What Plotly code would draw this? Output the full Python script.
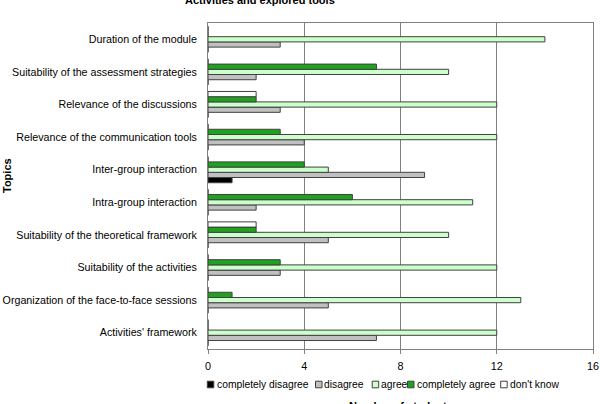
import plotly.graph_objects as go

topics = [
    "Activities' framework",
    "Organization of the face-to-face sessions",
    "Suitability of the activities",
    "Suitability of the theoretical framework",
    "Intra-group interaction",
    "Inter-group interaction",
    "Relevance of the communication tools",
    "Relevance of the discussions",
    "Suitability of the assessment strategies",
    "Duration of the module",
]
completely_disagree = [0, 0, 0, 0, 0, 1, 0, 0, 0, 0]
disagree = [7, 5, 3, 5, 2, 9, 4, 3, 2, 3]
agree = [12, 13, 12, 10, 11, 5, 12, 12, 10, 14]
completely_agree = [0, 1, 3, 2, 6, 4, 3, 2, 7, 0]
dont_know = [0, 0, 0, 2, 0, 0, 0, 2, 0, 0]

series_names = ["completely disagree", "disagree", "agree", "completely agree", "don't know"]
series_values = [completely_disagree, disagree, agree, completely_agree, dont_know]
series_colors = ["#000000", "#C0C0C0", "#CCFFCC", "#1FA31F", "#FFFFFF"]

FONT = "Liberation Sans, Arial, sans-serif"
EDGE = "#404040"

fig = go.Figure()
for name, vals, color in zip(series_names, series_values, series_colors):
    fig.add_trace(go.Bar(
        y=topics, x=vals, name=name, orientation="h", showlegend=False,
        marker=dict(color=color, line=dict(color=EDGE, width=1)),
    ))

W, H = 600, 404
L, R, T, B = 208, 7, 23, 55
pw = W - L - R
ph = H - T - B

def xp(px):
    return (px - L) / pw

def yp(py):
    return (H - B - py) / ph

annotations = [
    dict(text="<b>Activities and explored tools</b>", xref="paper", yref="paper",
         x=xp(260), y=yp(0), xanchor="center", yanchor="middle",
         showarrow=False, font=dict(size=11)),
    dict(text="<b>Number of students</b>", xref="paper", yref="paper",
         x=0.5, y=yp(406), xanchor="center", yanchor="middle",
         showarrow=False, font=dict(size=11)),
    dict(text="<b>Topics</b>", xref="paper", yref="paper",
         x=xp(7), y=yp(176), xanchor="center", yanchor="middle",
         textangle=-90, showarrow=False, font=dict(size=11)),
]
shapes = []

# manual compact legend (as in the reference)
legend_sq_x = [207.3, 315.5, 372.2, 407.5, 500.7]
legend_txt_x = [216.2, 323.7, 380.5, 416.6, 509.7]
ly = 384.5
for name, color, sx, tx in zip(series_names, series_colors, legend_sq_x, legend_txt_x):
    shapes.append(dict(type="rect", xref="paper", yref="paper",
                       x0=xp(sx), x1=xp(sx + 6.5), y0=yp(ly - 3.3), y1=yp(ly + 3.3),
                       fillcolor=color, line=dict(color=EDGE, width=1)))
    annotations.append(dict(text=name, xref="paper", yref="paper",
                            x=xp(tx), y=yp(ly), xanchor="left", yanchor="middle",
                            showarrow=False, font=dict(size=10.3), xshift=-1.5))

fig.update_layout(
    width=W, height=H,
    margin=dict(l=L, r=R, t=T, b=B, autoexpand=False),
    barmode="group", bargap=0.2, bargroupgap=0,
    plot_bgcolor="white", paper_bgcolor="white",
    font=dict(family=FONT, size=11, color="#000000"),
    showlegend=False,
    xaxis=dict(
        range=[0, 16], tickvals=[0, 4, 8, 12, 16],
        showgrid=True, gridcolor="#808080", gridwidth=1,
        showline=True, linecolor="#808080", linewidth=1, mirror=True,
        ticks="outside", ticklen=4, tickcolor="#808080",
        tickfont=dict(size=10.8), zeroline=False, ticklabelstandoff=3,
        automargin=False,
    ),
    yaxis=dict(
        showline=True, linecolor="#808080", linewidth=1, mirror=True,
        showgrid=False, ticks="", ticklabelstandoff=8,
        tickfont=dict(size=10.7), automargin=False,
    ),
    annotations=annotations,
    shapes=shapes,
)

fig.write_html("out.html")
